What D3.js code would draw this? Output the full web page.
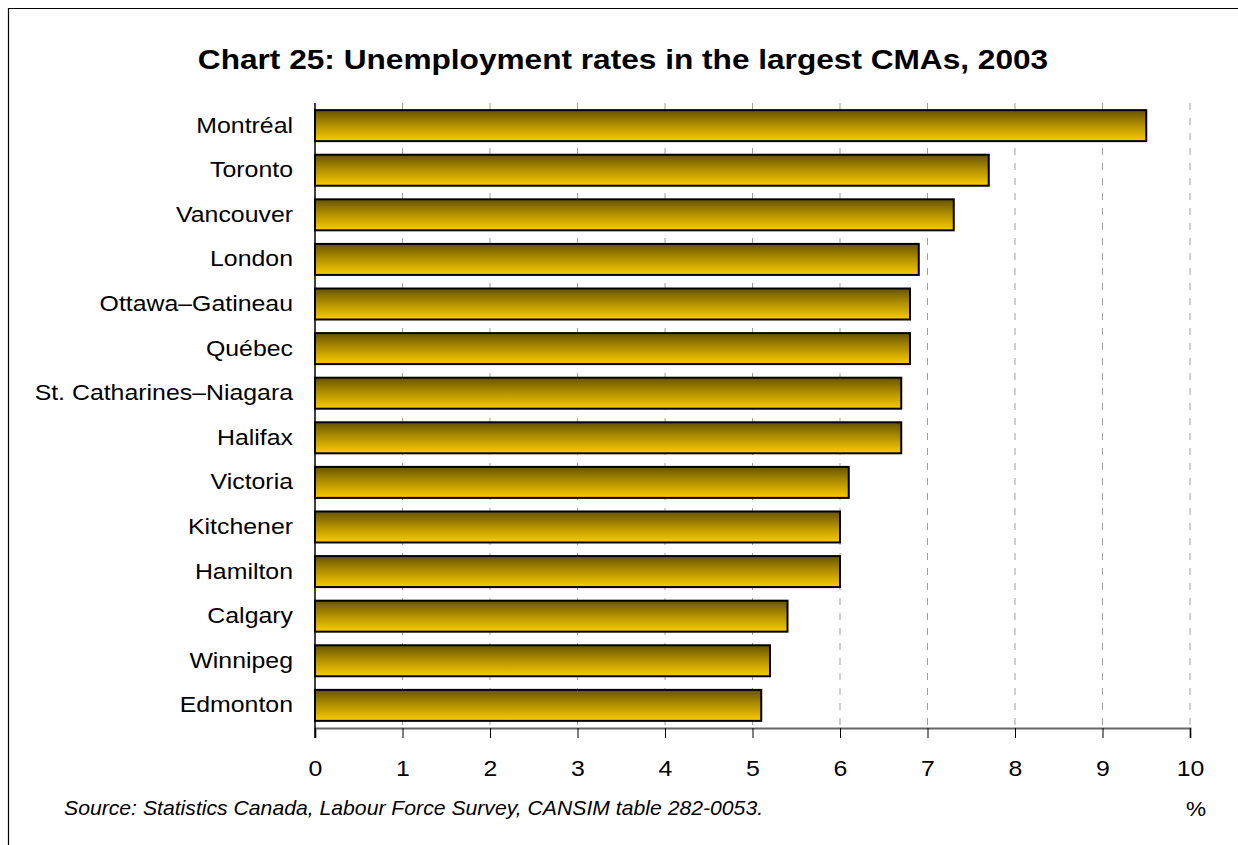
<!DOCTYPE html>
<html>
<head>
<meta charset="utf-8">
<script src="https://cdn.jsdelivr.net/npm/d3@7"></script>
<style>
  html, body { margin: 0; padding: 0; background: #fff; }
  svg { display: block; font-family: "Liberation Sans", Arial, sans-serif; }
</style>
</head>
<body>
<svg id="chart" width="1238" height="845"></svg>
<script>
const cities = ["Montréal", "Toronto", "Vancouver", "London", "Ottawa–Gatineau", "Québec",
  "St. Catharines–Niagara", "Halifax", "Victoria", "Kitchener ", "Hamilton", "Calgary",
  "Winnipeg", "Edmonton"];
const rates = [9.5, 7.7, 7.3, 6.9, 6.8, 6.8, 6.7, 6.7, 6.1, 6.0, 6.0, 5.4, 5.2, 5.1];
const xTicks = [0, 1, 2, 3, 4, 5, 6, 7, 8, 9, 10];
const titleText = "Chart 25: Unemployment rates in the largest CMAs, 2003";
const sourceText = "Source: Statistics Canada, Labour Force Survey, CANSIM table 282-0053.";
const unitText = "%";

const FONT = "'Liberation Sans', Arial, sans-serif";
const WIDEN = 1.13;   // horizontal stretch of the lettering
const svg = d3.select("#chart");

// place a text element at (x, y) and stretch it horizontally
function stretch(sel, sx) {
  sel.each(function () {
    const t = d3.select(this);
    const tx = +t.attr("x") || 0, ty = +t.attr("y") || 0;
    t.attr("x", 0).attr("y", 0)
      .attr("transform", `translate(${tx},${ty}) scale(${sx},1)`);
  });
}

// frame (left and top edges visible)
svg.append("path")
  .attr("d", "M8.5,845 V8.5 H1238")
  .attr("fill", "none").attr("stroke", "#000").attr("stroke-width", 1.2);

const plot = { left: 315, right: 1190, top: 103, bottom: 728 };

const x = d3.scaleLinear().domain([0, 10]).range([plot.left, plot.right]);
const y = d3.scaleBand().domain(cities).range([plot.top, plot.bottom])
  .paddingInner(0.305).paddingOuter(0.16);

// vertical gradient for bars
const defs = svg.append("defs");
const grad = defs.append("linearGradient").attr("id", "barGrad")
  .attr("x1", 0).attr("y1", 0).attr("x2", 0).attr("y2", 1);
grad.append("stop").attr("offset", "0%").attr("stop-color", "#675300");
grad.append("stop").attr("offset", "45%").attr("stop-color", "#ad8c00");
grad.append("stop").attr("offset", "100%").attr("stop-color", "#fbcc00");

// dashed gridlines
svg.append("g").selectAll("line")
  .data(xTicks.filter(d => d > 0))
  .join("line")
  .attr("x1", d => x(d)).attr("x2", d => x(d))
  .attr("y1", plot.top).attr("y2", plot.bottom)
  .attr("stroke", "#a0a0a0").attr("stroke-width", 1)
  .attr("stroke-dasharray", "7,8");

// bars
svg.append("g").selectAll("rect")
  .data(cities)
  .join("rect")
  .attr("x", x(0))
  .attr("y", d => y(d))
  .attr("width", (d, i) => x(rates[i]) - x(0))
  .attr("height", y.bandwidth())
  .attr("fill", "url(#barGrad)")
  .attr("stroke", "#000").attr("stroke-width", 2);

// bottom axis
const xAxis = svg.append("g")
  .attr("transform", `translate(0,${plot.bottom})`)
  .call(d3.axisBottom(x).tickValues(xTicks).tickSize(10).tickPadding(22).tickFormat(d3.format("d")));
xAxis.select(".domain").attr("stroke", "#666").attr("stroke-width", 2);
xAxis.selectAll(".tick line").attr("stroke", "#000");
xAxis.selectAll(".tick text")
  .attr("font-size", 22).attr("fill", "#000").attr("font-family", FONT)
  .call(stretch, WIDEN);

// left axis
const yAxis = svg.append("g")
  .attr("transform", `translate(${plot.left},0)`)
  .call(d3.axisLeft(y).tickSize(0).tickPadding(22));
yAxis.select(".domain").remove();
yAxis.selectAll(".tick text")
  .attr("font-size", 22).attr("fill", "#000").attr("font-family", FONT)
  .call(stretch, WIDEN);
svg.append("line")
  .attr("x1", plot.left).attr("x2", plot.left)
  .attr("y1", plot.top).attr("y2", plot.bottom + 10)
  .attr("stroke", "#000").attr("stroke-width", 1.5);

// title
svg.append("text")
  .attr("x", 623).attr("y", 69)
  .attr("text-anchor", "middle")
  .attr("font-size", 27.5).attr("font-weight", "bold")
  .text(titleText)
  .call(stretch, 1.15);

// source note and unit
svg.append("text")
  .attr("x", 64).attr("y", 815)
  .attr("font-size", 20).attr("font-style", "italic")
  .text(sourceText)
  .call(stretch, 1.06);
svg.append("text")
  .attr("x", 1196).attr("y", 816)
  .attr("text-anchor", "middle")
  .attr("font-size", 20)
  .text(unitText)
  .call(stretch, WIDEN);
</script>
</body>
</html>
